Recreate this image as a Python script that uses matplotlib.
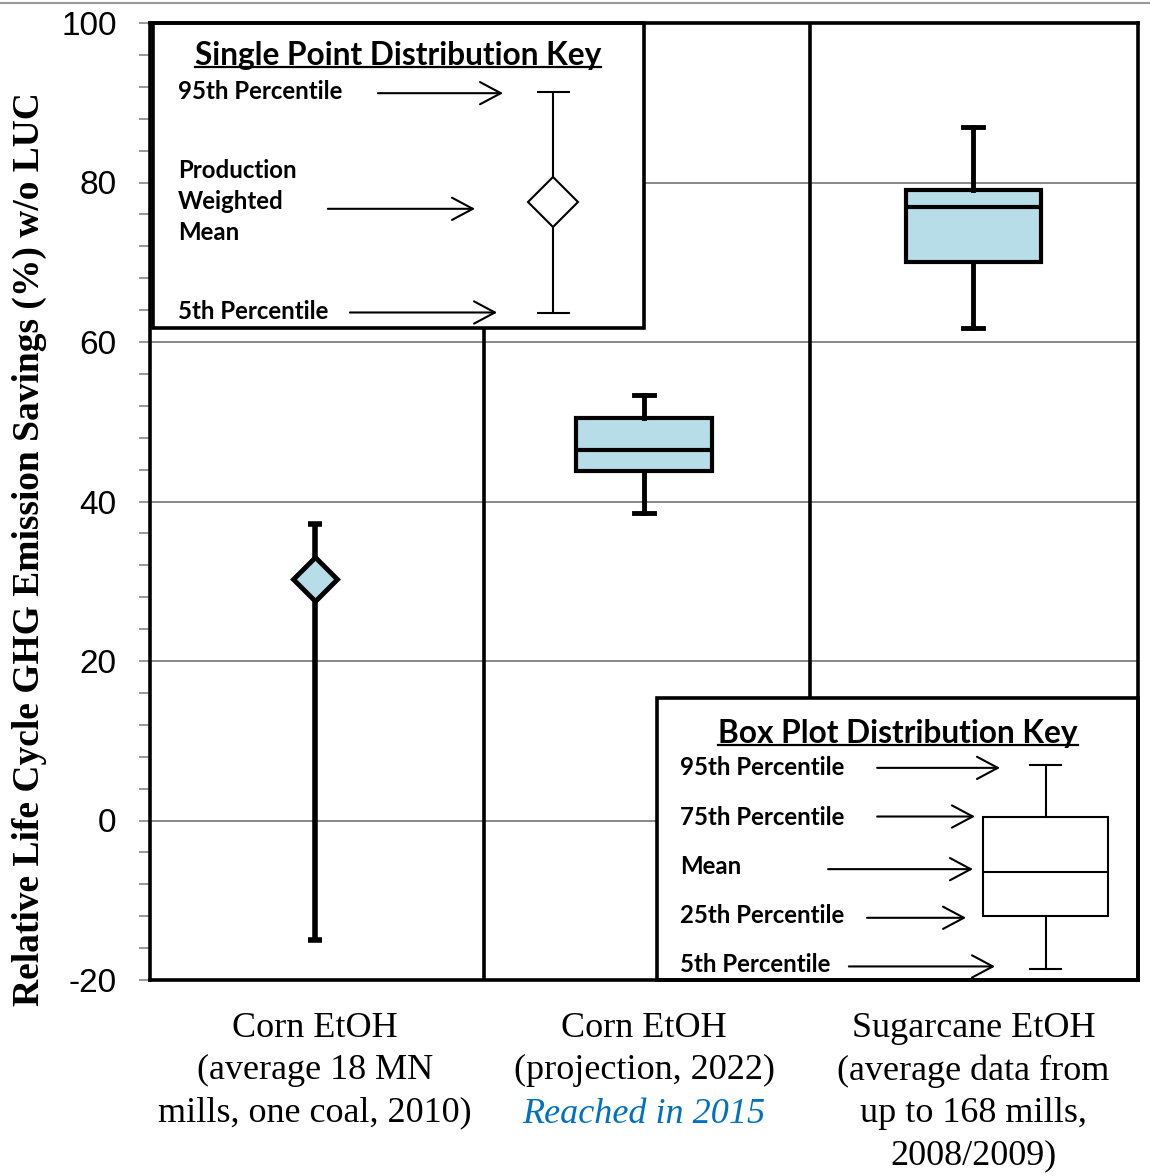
import matplotlib
matplotlib.use("Agg")
import matplotlib.pyplot as plt
from matplotlib.patches import Rectangle, FancyArrowPatch
from matplotlib.lines import Line2D

plt.rcParams["axes.unicode_minus"] = False

# ---- data ----
categories = ["Corn EtOH\n(average 18 MN\nmills, one coal, 2010)",
              "Corn EtOH\n(projection, 2022)",
              "Sugarcane EtOH\n(average data from\nup to 168 mills,\n2008/2009)"]
note_2015 = "Reached in 2015"

# corn 2010: single point (weighted mean with 5th / 95th percentile)
corn2010_mean = 30.3
corn2010_p5 = -15.0
corn2010_p95 = 37.2

# box plots: 5th, 25th, mean, 75th, 95th
corn2022 = [38.6, 43.8, 46.5, 50.5, 53.3]
sugarcane = [61.8, 70.0, 76.9, 79.0, 86.9]

# illustrative values used in the two keys
key_single = [63.6, 77.5, 91.4]             # 5th, mean, 95th
key_box = [-18.6, -12.0, -6.5, 0.5, 7.0]     # 5th, 25th, mean, 75th, 95th
single_labels = ["95th Percentile", "Production\nWeighted\nMean", "5th Percentile"]
box_labels = ["95th Percentile", "75th Percentile", "Mean",
              "25th Percentile", "5th Percentile"]

fill = "#B7DDE8"
serif = "Liberation Serif"
keyfont = "Lato"

fig = plt.figure(figsize=(11.5, 11.76), dpi=100)
ax = fig.add_axes([150 / 1150, 1 - 980 / 1176, 988 / 1150, 957 / 1176])

ax.set_xlim(-0.5, 2.5)
ax.set_ylim(-20, 100)
ax.set_yticks(range(-20, 101, 20))
ax.set_yticks(range(-20, 101, 4), minor=True)
ax.tick_params(axis="y", which="both", direction="out", length=8, width=1.2,
               color="#888888", labelsize=24, pad=16)
for t in ax.get_yticklabels():
    t.set_family("Liberation Sans")
ax.set_xticks([0, 1, 2])
ax.set_xticklabels(categories, fontsize=26, family=serif, linespacing=1.37,
                   va="top")
ax.tick_params(axis="x", length=0, pad=23)
for s in ax.spines.values():
    s.set_linewidth(2.6)
    s.set_zorder(6)

for g in [0, 20, 40, 60, 80]:
    ax.axhline(g, color="#888888", lw=1.4, zorder=0)
for sep in [0.515, 1.505]:
    ax.axvline(sep, color="black", lw=2.6, zorder=1)

ax.set_ylabel("Relative Life Cycle GHG Emission Savings (%) w/o LUC",
              fontsize=27, family=serif, fontweight="bold")
ax.yaxis.set_label_coords(-0.104, 0.45)

ax.text(1, -0.1405, note_2015, transform=ax.get_xaxis_transform(),
        ha="center", va="center", fontsize=26, family=serif,
        style="italic", color="#0070C0")

# corn 2010 single point
ax.errorbar([0], [corn2010_mean],
            yerr=[[corn2010_mean - corn2010_p5], [corn2010_p95 - corn2010_mean]],
            fmt="none", ecolor="black", elinewidth=4, capsize=5, capthick=4,
            zorder=2)
ax.plot([0], [corn2010_mean], marker="D", ms=22, mfc=fill, mec="black",
        mew=3.5, zorder=3)

# box plots
stats = []
for vals in [corn2022, sugarcane]:
    stats.append(dict(whislo=vals[0], q1=vals[1], med=vals[2], q3=vals[3],
                      whishi=vals[4], fliers=[]))
ax.bxp(stats, positions=[1, 2], widths=0.41, capwidths=0.06,
       patch_artist=True, manage_ticks=False,
       boxprops=dict(facecolor=fill, edgecolor="black", linewidth=3),
       medianprops=dict(color="black", linewidth=3),
       whiskerprops=dict(color="black", linewidth=3.5),
       capprops=dict(color="black", linewidth=3.5), zorder=2)

# ---- key panels ----
ax.add_patch(Rectangle((-0.49, 61.8), 1.49, 38.2, facecolor="white",
                       edgecolor="black", lw=2.6, zorder=4, clip_on=False))
ax.add_patch(Rectangle((1.04, -20), 1.46, 35.4, facecolor="white",
                       edgecolor="black", lw=2.6, zorder=4, clip_on=False))


def arrow(x0, x1, y):
    ax.add_patch(FancyArrowPatch((x0, y), (x1, y),
                                 arrowstyle="->,head_length=0.75,head_width=0.4",
                                 mutation_scale=20, lw=1.5, color="black",
                                 zorder=5, shrinkA=0, shrinkB=0))


kt = dict(fontsize=17.3, family=keyfont, fontweight="bold", zorder=5,
          va="center", ha="left")

# single point key
t1 = ax.text(0.253, 95.9, "Single Point Distribution Key", fontsize=22.8,
             family=keyfont, fontweight="bold", ha="center", va="center",
             zorder=5)
ax.text(-0.415, 91.4, single_labels[0], **kt)
ax.text(-0.415, 77.6, single_labels[1], linespacing=1.42, **kt)
ax.text(-0.415, 63.8, single_labels[2], **kt)
arrow(0.192, 0.572, 91.2)
arrow(0.04, 0.487, 76.7)
arrow(0.107, 0.554, 63.7)
ax.vlines(0.725, key_single[0], key_single[2], color="black", lw=1.5, zorder=5)
ax.hlines([key_single[0], key_single[2]], 0.676, 0.774, color="black",
          lw=1.5, zorder=5)
ax.plot([0.725], [key_single[1]], marker="D", ms=25, mfc="white",
        mec="black", mew=1.5, zorder=6)

# box plot key
t2 = ax.text(1.771, 10.9, "Box Plot Distribution Key", fontsize=22.8,
             family=keyfont, fontweight="bold", ha="center", va="center",
             zorder=5)
box_y = [6.6, 0.4, -5.8, -11.9, -18.1]
for lab, yy in zip(box_labels, box_y):
    ax.text(1.109, yy, lab, **kt)
arrow(1.708, 2.081, 6.6)
arrow(1.708, 2.005, 0.5)
arrow(1.559, 1.999, -6.1)
arrow(1.677, 1.978, -12.2)
arrow(1.622, 2.066, -18.3)
kb = ax.bxp([dict(whislo=key_box[0], q1=key_box[1], med=key_box[2],
                  q3=key_box[3], whishi=key_box[4], fliers=[])],
            positions=[2.22], widths=0.38, capwidths=0.095,
            patch_artist=True, manage_ticks=False,
            boxprops=dict(facecolor="white", edgecolor="black", linewidth=1.5),
            medianprops=dict(color="black", linewidth=1.5),
            whiskerprops=dict(color="black", linewidth=1.5),
            capprops=dict(color="black", linewidth=1.5))
for arts in kb.values():
    for a in arts:
        a.set_zorder(5)

# underline key titles
fig.canvas.draw()
r = fig.canvas.get_renderer()
for t in [t1, t2]:
    bb = t.get_window_extent(r)
    yline = (bb.y0 + 3) / fig.bbox.height
    fig.add_artist(Line2D([bb.x0 / fig.bbox.width, bb.x1 / fig.bbox.width],
                          [yline, yline], color="black", lw=1.6, zorder=7))

# thin grey rule across the very top of the picture
fig.add_artist(Line2D([0, 1], [1 - 3 / 1176, 1 - 3 / 1176], color="#999999",
                      lw=1.5))

fig.savefig("out.png", dpi=100)
